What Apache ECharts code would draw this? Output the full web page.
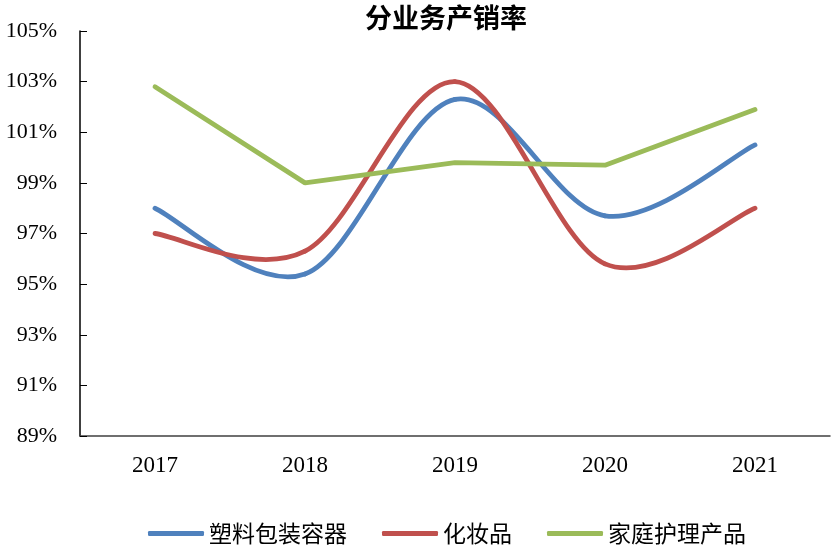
<!DOCTYPE html>
<html>
<head>
<meta charset="utf-8">
<style>
  html, body { margin: 0; padding: 0; background: #fff; }
  #chart { width: 833px; height: 545px; }
</style>
<script src="https://cdn.jsdelivr.net/npm/echarts@6/dist/echarts.min.js"></script>
</head>
<body>
<div id="chart"></div>
<script>
// 年份
const years = ['2017', '2018', '2019', '2020', '2021'];
// 产销率（%）
const plasticPackaging = [98.0, 95.4, 102.3, 97.7, 100.5];
const cosmetics = [97.0, 96.3, 103.0, 95.8, 98.0];
const homeCare = [102.8, 99.0, 99.8, 99.7, 101.9];
const seriesNames = ['塑料包装容器', '化妆品', '家庭护理产品'];
const colors = ['#4F81BD', '#C0504D', '#9BBB59'];

const serif = '"Liberation Serif", "Times New Roman", serif';
const cjk = '"Noto Sans CJK SC", sans-serif';

// Smoothed line drawn as cubic Bézier segments (Catmull-Rom style tangents),
// each segment mapped through the chart's own axes via api.coord.
function smoothLine(name, values, color) {
  return {
    name: name,
    type: 'custom',
    data: values.map((v, i) => [i, v]),
    encode: { x: 0, y: 1 },
    itemStyle: { color: color },
    renderItem: function (params, api) {
      const i = params.dataIndex;
      const n = values.length;
      if (i >= n - 1) return null;
      const pt = k => {
        const j = Math.max(0, Math.min(n - 1, k));
        return api.coord([j, values[j]]);
      };
      const p0 = pt(i - 1), p1 = pt(i), p2 = pt(i + 1), p3 = pt(i + 2);
      return {
        type: 'bezierCurve',
        shape: {
          x1: p1[0], y1: p1[1],
          x2: p2[0], y2: p2[1],
          cpx1: p1[0] + (p2[0] - p0[0]) / 6,
          cpy1: p1[1] + (p2[1] - p0[1]) / 6,
          cpx2: p2[0] - (p3[0] - p1[0]) / 6,
          cpy2: p2[1] - (p3[1] - p1[1]) / 6
        },
        style: { stroke: color, fill: 'none', lineWidth: 4.8, lineCap: 'round' }
      };
    }
  };
}

const chart = echarts.init(document.getElementById('chart'));
chart.setOption({
  animation: false,
  color: colors,
  title: {
    text: '分业务产销率',
    left: 360,
    top: -1,
    textStyle: { fontFamily: cjk, fontSize: 27, fontWeight: 'bold', color: '#000' }
  },
  legend: {
    bottom: -5,
    left: 143,
    itemWidth: 56,
    itemHeight: 5,
    itemGap: 35,
    icon: 'roundRect',
    textStyle: { fontFamily: cjk, fontSize: 23, color: '#000' },
    data: seriesNames.map((name, i) => ({ name: name, itemStyle: { color: colors[i] } }))
  },
  grid: { left: 80, right: 3, top: 31, bottom: 109 },
  xAxis: {
    type: 'category',
    data: years,
    boundaryGap: true,
    axisLine: { lineStyle: { color: '#404040', width: 1.5 } },
    axisTick: { inside: true, length: 6, lineStyle: { color: '#404040' } },
    axisLabel: { fontFamily: serif, fontSize: 23, color: '#000', margin: 18 }
  },
  yAxis: {
    type: 'value',
    min: 89,
    max: 105,
    interval: 2,
    axisLine: { show: true, lineStyle: { color: '#000', width: 1.5 } },
    axisTick: { show: true, inside: true, length: 7, lineStyle: { color: '#000' } },
    splitLine: { show: false },
    axisLabel: {
      fontFamily: serif, fontSize: 22, color: '#000', margin: 23,
      formatter: v => v + '%'
    }
  },
  series: [
    smoothLine(seriesNames[0], plasticPackaging, colors[0]),
    smoothLine(seriesNames[1], cosmetics, colors[1]),
    {
      name: seriesNames[2], type: 'line', data: homeCare,
      smooth: false, symbol: 'none',
      itemStyle: { color: colors[2] },
      lineStyle: { width: 4.8, cap: 'round', color: colors[2] }
    }
  ]
});
</script>
</body>
</html>
